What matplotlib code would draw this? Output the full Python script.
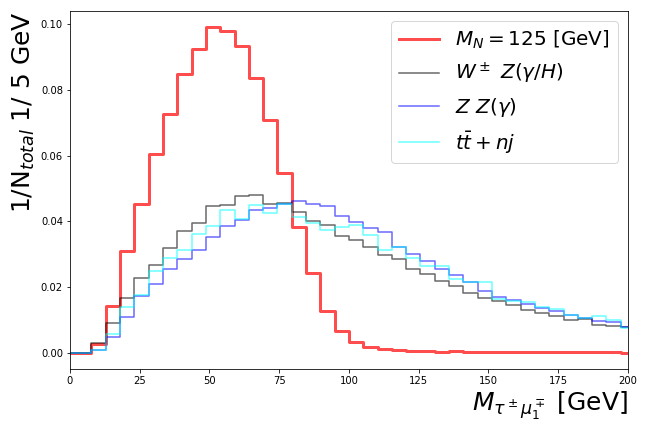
import numpy as np
import matplotlib
matplotlib.use("Agg")
import matplotlib.pyplot as plt

# bin positions (mass in GeV)
mass = np.linspace(0, 200, 40)

signal_mn125 = [0.0, 0.0, 0.0027, 0.0143, 0.0308, 0.0451, 0.0604, 0.0726, 0.0848, 0.0924,
                0.0991, 0.0979, 0.0933, 0.0835, 0.0707, 0.0547, 0.0383, 0.0241, 0.0128, 0.0066,
                0.0033, 0.0018, 0.0011, 0.0008, 0.0005, 0.0005, 0.0003, 0.0006, 0.0003, 0.0003,
                0.0003, 0.0003, 0.0003, 0.0003, 0.0003, 0.0003, 0.0003, 0.0003, 0.0003, 0.0]

wz_bkg = [0.0, 0.0, 0.0028, 0.0091, 0.0166, 0.0226, 0.0268, 0.0318, 0.0369, 0.0396,
          0.0445, 0.0449, 0.0477, 0.0481, 0.0452, 0.0454, 0.0428, 0.0400, 0.0390, 0.0356,
          0.0342, 0.0321, 0.0298, 0.0285, 0.0254, 0.0240, 0.0217, 0.0202, 0.0181, 0.0166,
          0.0156, 0.0145, 0.0131, 0.0120, 0.0111, 0.0100, 0.0103, 0.0085, 0.0080, 0.0077]

zz_bkg = [0.0, 0.0, 0.0008, 0.0047, 0.0110, 0.0173, 0.0210, 0.0256, 0.0284, 0.0311,
          0.0351, 0.0386, 0.0404, 0.0435, 0.0440, 0.0453, 0.0463, 0.0451, 0.0447, 0.0416,
          0.0397, 0.0378, 0.0367, 0.0323, 0.0301, 0.0280, 0.0255, 0.0235, 0.0214, 0.0189,
          0.0169, 0.0159, 0.0148, 0.0135, 0.0128, 0.0116, 0.0105, 0.0096, 0.0093, 0.0079]

tt_bkg = [0.0, 0.0, 0.0008, 0.0058, 0.0138, 0.0175, 0.0248, 0.0287, 0.0311, 0.0361,
          0.0384, 0.0434, 0.0408, 0.0449, 0.0424, 0.0453, 0.0413, 0.0396, 0.0372, 0.0381,
          0.0390, 0.0359, 0.0311, 0.0323, 0.0288, 0.0263, 0.0263, 0.0224, 0.0214, 0.0214,
          0.0164, 0.0156, 0.0153, 0.0140, 0.0133, 0.0116, 0.0105, 0.0113, 0.0098, 0.0075]

labels = [r'$M_N = 125$ [GeV]', r'$W^\pm\ Z(\gamma/H)$', r'$Z\ Z(\gamma)$', r'$t\bar{t} + nj$']

fig = plt.figure(figsize=(9, 6), dpi=72)
ax = fig.add_axes([0.108, 0.146, 0.861, 0.829])

ax.step(mass, signal_mn125, where='mid', color='red', alpha=0.7, lw=3, label=labels[0])
ax.step(mass, wz_bkg, where='mid', color='black', alpha=0.6, lw=1.5, label=labels[1])
ax.step(mass, zz_bkg, where='mid', color='blue', alpha=0.6, lw=1.5, label=labels[2])
ax.step(mass, tt_bkg, where='mid', color='cyan', alpha=0.6, lw=1.5, label=labels[3])

ax.set_xlim(0, 200)
ax.tick_params(labelsize=10)
ax.set_ylabel(r'1/N$_{total}$ 1/ 5 GeV', fontsize=25, loc='top')
ax.set_xlabel(r'$M_{\tau^\pm \mu_1^\mp}$ [GeV]', fontsize=25, loc='right')
ax.legend(loc='upper right', fontsize=20)

fig.savefig('out.png', dpi=72)
